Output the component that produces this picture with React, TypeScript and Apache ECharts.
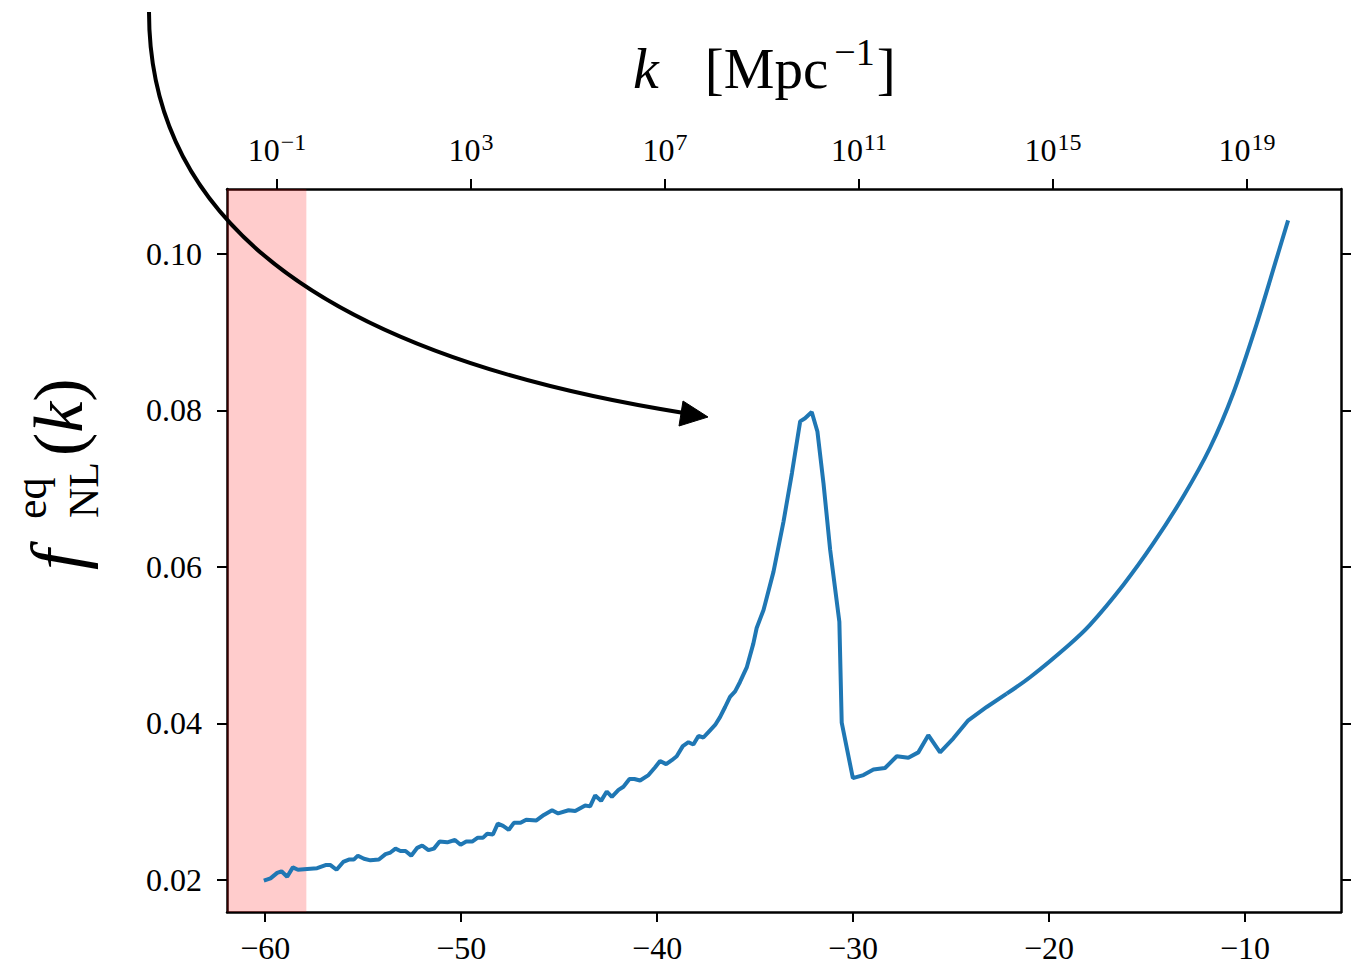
import React, { useEffect, useRef } from "react";
import * as echarts from "echarts";

// Bottom axis values and f_NL^eq
const xs = [
  -60.07, -59.73, -59.39, -59.17, -58.88, -58.59, -58.33, -57.86, -57.35, -56.92,
  -56.67, -56.36, -56.02, -55.73, -55.48, -55.27, -54.96, -54.63, -54.2, -53.86,
  -53.61, -53.35, -53.1, -52.84, -52.55, -52.24, -51.99, -51.67, -51.39, -51.1,
  -50.71, -50.32, -50.03, -49.74, -49.44, -49.15, -48.88, -48.67, -48.38, -48.13,
  -47.86, -47.57, -47.31, -46.97, -46.68, -46.16, -45.78, -45.36, -45.05, -44.52,
  -44.18, -43.67, -43.42, -43.16, -42.86, -42.57, -42.31, -41.97, -41.72, -41.41,
  -41.16, -40.87, -40.44, -40.1, -39.85, -39.54, -39.25, -39.0, -38.69, -38.4,
  -38.15, -37.89, -37.64, -37.38, -37.04, -36.79, -36.53, -36.28, -36.02, -35.77,
  -35.42, -35.09, -34.92, -34.57, -34.06, -33.55, -33.12, -32.7, -32.45, -32.11,
  -31.82, -31.51, -31.17, -30.7, -30.58, -30.01, -29.47, -28.96, -28.37, -27.77,
  -27.18, -26.67, -26.16, -25.56, -24.88, -24.12, -23.18, -22.16,
];
const ys = [
  0.0199, 0.0202, 0.0209, 0.0211, 0.0204, 0.0216, 0.0213, 0.0214, 0.0215, 0.0219,
  0.0219, 0.0213, 0.0223, 0.0226, 0.0226, 0.0231, 0.0227, 0.0225, 0.0226, 0.0233,
  0.0235, 0.024, 0.0237, 0.0237, 0.0231, 0.0241, 0.0244, 0.0238, 0.024, 0.0249,
  0.0248, 0.0251, 0.0245, 0.0249, 0.0249, 0.0254, 0.0254, 0.0259, 0.0258, 0.0272,
  0.0269, 0.0264, 0.0273, 0.0273, 0.0277, 0.0276, 0.0283, 0.0289, 0.0285, 0.0289,
  0.0288, 0.0295, 0.0294, 0.0308, 0.0301, 0.0313, 0.0306, 0.0315, 0.0319, 0.0329,
  0.0329, 0.0327, 0.0334, 0.0344, 0.0352, 0.0348, 0.0353, 0.0358, 0.0371, 0.0376,
  0.0373, 0.0384, 0.0382, 0.0389, 0.0398, 0.0408, 0.0421, 0.0434, 0.0441, 0.0453,
  0.0472, 0.0502, 0.0522, 0.0545, 0.0594, 0.0658, 0.072, 0.0786, 0.079, 0.0798,
  0.0773, 0.0707, 0.0622, 0.053, 0.0401, 0.033, 0.0334, 0.0341, 0.0343, 0.0358,
  0.0356, 0.0363, 0.0385, 0.0363, 0.0381, 0.0404, 0.0421, 0.0438,
];
// smooth tail of the same curve
const tailXs = [-22.16, -20.97, -19.0, -17.91, -16.21, -14.68, -13.15, -11.79, -10.6, -9.41, -8.39, -7.8];
const tailYs = [0.0438, 0.0459, 0.05, 0.0526, 0.0577, 0.063, 0.069, 0.0752, 0.0822, 0.091, 0.0994, 0.1043];

const bottomTicks = [-60, -50, -40, -30, -20, -10];
const topTicks = [-1, 3, 7, 11, 15, 19]; // log10 k
const yTicks = [0.02, 0.04, 0.06, 0.08, 0.1];
const bandRange = [-61.95, -57.9];

const FONT = "'Liberation Serif', 'DejaVu Serif', serif";

export default function App() {
  const ref = useRef<HTMLDivElement>(null);
  useEffect(() => {
    if (!ref.current) return;
    const chart = echarts.init(ref.current, null, { renderer: "svg" });
    const data = xs.map((x, i) => [x, ys[i]]);
    const tail = tailXs.map((x, i) => [x, tailYs[i]]);
    const lineCol = "#000";
    const axisLine = { show: true, onZero: false, lineStyle: { color: lineCol, width: 2.5 } };
    const tick = (vals: number[]) => ({
      show: true,
      inside: false,
      length: 10,
      customValues: vals,
      lineStyle: { color: lineCol, width: 2 },
    });
    const minus = (v: number) => String(v).replace("-", "\u2212");
    const blue = "#1f77b4";
    const option: any = {
      animation: false,
      backgroundColor: "#fff",
      grid: { left: 227, right: 18, top: 189, bottom: 61, containLabel: false },
      xAxis: [
        {
          type: "value",
          position: "bottom",
          min: -61.95,
          max: -5.1,
          axisLine,
          axisTick: tick(bottomTicks),
          splitLine: { show: false },
          axisLabel: {
            customValues: bottomTicks,
            formatter: (v: number) => minus(v),
            fontFamily: FONT,
            fontSize: 32,
            lineHeight: 36,
            color: "#000",
            margin: 18,
          },
        },
        {
          type: "value",
          position: "top",
          min: -2.03,
          max: 20.94,
          axisLine,
          axisTick: tick(topTicks),
          splitLine: { show: false },
          axisLabel: {
            customValues: topTicks,
            formatter: (v: number) => `{b|10}{s|${minus(v)}}`,
            margin: 19,
            rich: {
              b: { fontFamily: FONT, fontSize: 32, lineHeight: 40, color: "#000" },
              s: { fontFamily: FONT, fontSize: 24, lineHeight: 26, verticalAlign: "top", color: "#000", padding: [0, 0, 0, 1] },
            },
          },
        },
      ],
      yAxis: [
        {
          type: "value",
          position: "left",
          min: 0.0159,
          max: 0.1083,
          axisLine,
          axisTick: tick(yTicks),
          splitLine: { show: false },
          axisLabel: {
            customValues: yTicks,
            formatter: (v: number) => v.toFixed(2),
            fontFamily: FONT,
            fontSize: 32,
            color: "#000",
            margin: 25,
          },
        },
        {
          type: "value",
          position: "right",
          min: 0.0159,
          max: 0.1083,
          axisLine,
          axisTick: tick(yTicks),
          splitLine: { show: false },
          axisLabel: { show: false },
        },
      ],
      series: [
        {
          type: "line",
          xAxisIndex: 0,
          yAxisIndex: 0,
          data,
          symbol: "none",
          lineStyle: { color: blue, width: 4 },
          z: 3,
          markArea: {
            silent: true,
            itemStyle: { color: "rgba(255,0,0,0.2)" },
            data: [[{ xAxis: bandRange[0] }, { xAxis: bandRange[1] }]],
          },
        },
        {
          type: "line",
          xAxisIndex: 0,
          yAxisIndex: 0,
          data: tail,
          symbol: "none",
          smooth: 0.3,
          lineStyle: { color: blue, width: 4 },
          z: 3,
        },
      ],
      graphic: [
        {
          type: "bezierCurve",
          z: 100,
          shape: { x1: 149, y1: 12, cpx1: 149, cpy1: 328, x2: 684, y2: 413 },
          style: { stroke: "#000", lineWidth: 4, fill: null },
        },
        {
          type: "polygon",
          z: 100,
          shape: { points: [[683, 401], [679, 426], [708, 417]] },
          style: { fill: "#000", stroke: "#000", lineWidth: 1 },
        },
        {
          type: "text",
          z: 100,
          x: 633,
          y: 68,
          style: {
            text: "{i|k}{n|[Mpc}{s|\u22121}{n|]}",
            verticalAlign: "middle",
            textAlign: "left",
            rich: {
              i: { fontFamily: FONT, fontStyle: "italic", fontSize: 58, lineHeight: 70, fill: "#000", padding: [0, 46, 0, 0] },
              n: { fontFamily: FONT, fontSize: 57, lineHeight: 70, fill: "#000" },
              s: { fontFamily: FONT, fontSize: 38, lineHeight: 38, verticalAlign: "top", fill: "#000", padding: [0, 2, 0, 6] },
            },
          },
        },
        {
          type: "text",
          z: 100,
          x: 57,
          y: 570,
          rotation: Math.PI / 2,
          style: { text: "f", fontFamily: FONT, fontStyle: "italic", fontSize: 74, fill: "#000", verticalAlign: "middle", textAlign: "left" },
        },
        {
          type: "text",
          z: 100,
          x: 31,
          y: 519,
          rotation: Math.PI / 2,
          style: { text: "eq", fontFamily: FONT, fontSize: 44, fill: "#000", verticalAlign: "middle", textAlign: "left" },
        },
        {
          type: "text",
          z: 100,
          x: 84,
          y: 518,
          rotation: Math.PI / 2,
          style: { text: "NL", fontFamily: FONT, fontSize: 42, fill: "#000", verticalAlign: "middle", textAlign: "left" },
        },
        {
          type: "text",
          z: 100,
          x: 58,
          y: 456,
          rotation: Math.PI / 2,
          style: {
            text: "({k|k})",
            verticalAlign: "middle",
            textAlign: "left",
            fontFamily: FONT,
            fontSize: 70,
            fill: "#000",
            rich: { k: { fontFamily: FONT, fontStyle: "italic", fontSize: 70, fill: "#000" } },
          },
        },
      ],
    };
    chart.setOption(option);
    return () => chart.dispose();
  }, []);
  return <div ref={ref} style={{ width: 1359, height: 973, margin: -8 }} />;
}
